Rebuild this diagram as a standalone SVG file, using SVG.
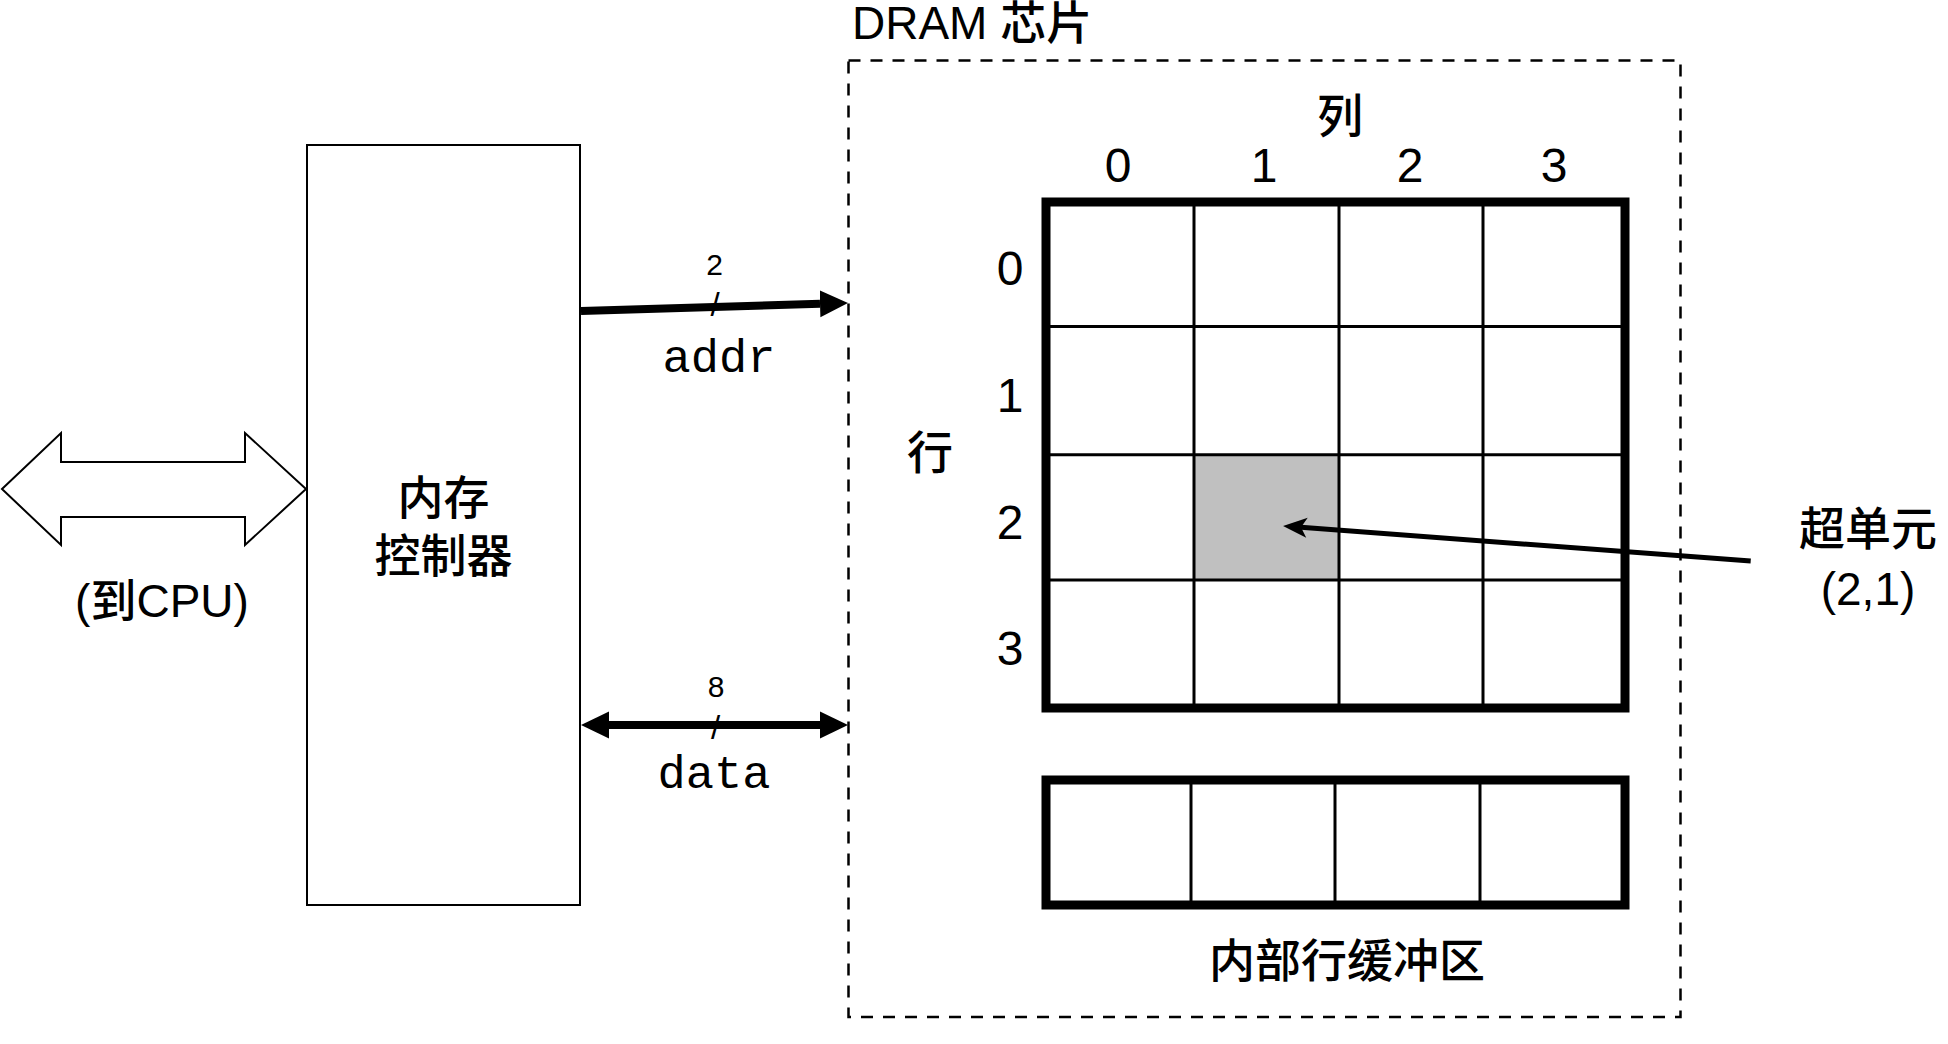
<svg xmlns="http://www.w3.org/2000/svg" width="1948" height="1044" viewBox="0 0 1948 1044">
  <style>
    .t { font-family: "Liberation Sans", "Noto Sans CJK SC", sans-serif; fill: #000; }
    .cjk { font-size: 46px; font-weight: 500; }
    .num { font-size: 48px; }
    .small { font-size: 30px; }
    .mono { font-family: "Liberation Mono", "Courier New", monospace; font-size: 47px; fill: #000; }
    .mid { text-anchor: middle; }
    .thick { fill: none; stroke: #000; stroke-width: 9; }
    .thin { stroke: #000; stroke-width: 3; }
    .bus { stroke: #000; stroke-width: 8; fill: none; }
  </style>
  <defs>
    <marker id="block" viewBox="0 -14 28 28" markerWidth="28" markerHeight="28" refX="0" refY="0" markerUnits="userSpaceOnUse" orient="auto-start-reverse">
      <path d="M0,-13.5 L28,0 L0,13.5 Z" fill="#000"/>
    </marker>
    <marker id="classic" viewBox="-8 -12 28 24" markerWidth="28" markerHeight="24" refX="0" refY="0" markerUnits="userSpaceOnUse" orient="auto">
      <path d="M-6,-10 L18,0 L-6,10 L0,0 Z" fill="#000"/>
    </marker>
  </defs>
  <rect width="1948" height="1044" fill="#fff"/>

  <g id="controller">
    <rect x="307" y="145" width="273" height="760" fill="#fff" stroke="#000" stroke-width="2"/>
    <text class="t cjk mid" x="443.5" y="514">内存</text>
    <text class="t cjk mid" x="443.5" y="572">控制器</text>
  </g>

  <g id="cpu-label">
    <text class="t cjk mid" x="162" y="617">(到CPU)</text>
  </g>

  <g id="dram-chip">
    <rect x="848.5" y="60.5" width="832" height="956.5" fill="none" stroke="#000" stroke-width="2.5" stroke-dasharray="12 10"/>
    <text class="t cjk" x="852" y="39">DRAM 芯片</text>
  </g>

  <g id="cell-array">
    <rect x="1194" y="454.7" width="145" height="125.3" fill="#c0c0c0"/>
    <line class="thin" x1="1194" y1="202" x2="1194" y2="708"/>
    <line class="thin" x1="1339" y1="202" x2="1339" y2="708"/>
    <line class="thin" x1="1483" y1="202" x2="1483" y2="708"/>
    <line class="thin" x1="1046" y1="326.5" x2="1625" y2="326.5"/>
    <line class="thin" x1="1046" y1="454.7" x2="1625" y2="454.7"/>
    <line class="thin" x1="1046" y1="580" x2="1625" y2="580"/>
    <rect class="thick" x="1046" y="202" width="579" height="506"/>
  </g>

  <g id="column-labels">
    <text class="t cjk mid" x="1340" y="132">列</text>
    <text class="t num mid" x="1118" y="182">0</text>
    <text class="t num mid" x="1264" y="182">1</text>
    <text class="t num mid" x="1410" y="182">2</text>
    <text class="t num mid" x="1554" y="182">3</text>
  </g>

  <g id="row-labels">
    <text class="t cjk mid" x="930" y="469">行</text>
    <text class="t num mid" x="1010" y="285">0</text>
    <text class="t num mid" x="1010" y="412">1</text>
    <text class="t num mid" x="1010" y="539">2</text>
    <text class="t num mid" x="1010" y="665">3</text>
  </g>

  <g id="row-buffer">
    <line class="thin" x1="1191" y1="780" x2="1191" y2="905"/>
    <line class="thin" x1="1335" y1="780" x2="1335" y2="905"/>
    <line class="thin" x1="1480" y1="780" x2="1480" y2="905"/>
    <rect class="thick" x="1046" y="780" width="579" height="125"/>
    <text class="t cjk mid" x="1347" y="977">内部行缓冲区</text>
  </g>

  <g id="supercell-label">
    <text class="t cjk mid" x="1868" y="545">超单元</text>
    <text class="t cjk mid" x="1868" y="605">(2,1)</text>
  </g>

  <g id="connectors">
    <polygon id="cpu-bus" points="2,489 61,433 61,462 245,462 245,433 306,489 245,545 245,517 61,517 61,545" fill="#fff" stroke="#000" stroke-width="2" stroke-linejoin="miter"/>
    <g id="addr-bus">
      <line class="bus" x1="581" y1="311" x2="820" y2="303.8" marker-end="url(#block)"/>
      <text class="t small mid" x="714.5" y="275">2</text>
      <text class="t mid" x="715" y="316" font-size="33">/</text>
      <text class="mono mid" x="719" y="372">addr</text>
    </g>
    <g id="data-bus">
      <line class="bus" x1="609" y1="725" x2="820" y2="725" marker-start="url(#block)" marker-end="url(#block)"/>
      <text class="t small mid" x="716" y="697">8</text>
      <text class="t mid" x="715.5" y="739" font-size="33">/</text>
      <text class="mono mid" x="714" y="788">data</text>
    </g>
    <line id="supercell-pointer" x1="1750.7" y1="561" x2="1301" y2="527.3" stroke="#000" stroke-width="5" marker-end="url(#classic)"/>
  </g>
</svg>
